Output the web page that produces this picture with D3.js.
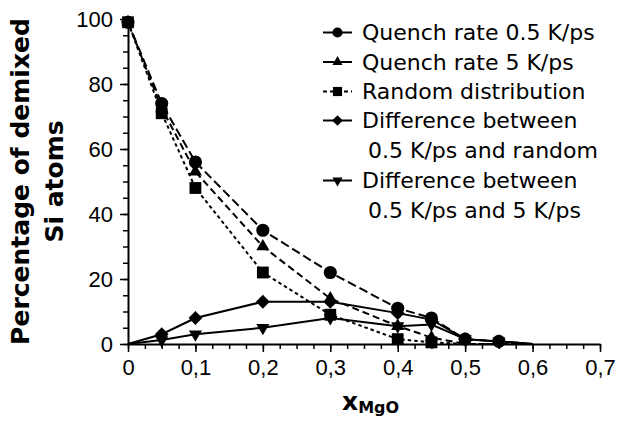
<!DOCTYPE html>
<html>
<head>
<meta charset="utf-8">
<script src="https://cdn.jsdelivr.net/npm/d3@7"></script>
<style>
  body { margin: 0; background: #fff; }
  svg { display: block; font-family: "DejaVu Sans", Verdana, sans-serif; }
  .axis path, .axis line { stroke: #000; }
  .axis text { font-size: 22px; fill: #000; }
</style>
</head>
<body>
<script>
const width = 625,
  height = 423;
const margin = { top: 19, right: 25, bottom: 79, left: 128 };
const innerWidth = width - margin.left - margin.right;
const innerHeight = height - margin.top - margin.bottom;

// x positions (mole fraction MgO)
const xValues = [0, 0.05, 0.1, 0.2, 0.3, 0.4, 0.45, 0.5, 0.55, 0.6];
// percentages
const quench05 = [99, 74, 56, 35, 22, 11, 8, 1.5, 0.8, 0];
const quench5 = [99, 72.5, 53, 30, 14, 5.5, 2, 0, 0, 0];
const randomDist = [99, 71, 48, 22, 9, 1.5, 0.5, 0, 0, 0];
const diffRandom = [0, 3, 8, 13, 13, 9.5, 7.5, 1.5, 0.8, 0];
const diffQuench = [0, 1.2, 3, 5, 8, 5.5, 6, 1.5, 0.8, 0];

const xTicks = [0, 0.1, 0.2, 0.3, 0.4, 0.5, 0.6, 0.7];
const yTicks = [0, 20, 40, 60, 80, 100];

const seriesNames = [
  ["Quench rate 0.5 K/ps"],
  ["Quench rate 5 K/ps"],
  ["Random distribution"],
  ["Difference between", "0.5 K/ps and random"],
  ["Difference between", "0.5 K/ps and 5 K/ps"]
];

const series = [
  { values: quench05, symbol: d3.symbolCircle, size: 135, rot: 0, dash: "9,4", legendDash: null },
  { values: quench5, symbol: d3.symbolTriangle, size: 75, rot: 0, dash: "7,4", legendDash: null },
  { values: randomDist, symbol: d3.symbolSquare, size: 140, rot: 0, dash: "3.5,3", legendDash: "4,3" },
  { values: diffRandom, symbol: d3.symbolSquare, size: 95, rot: 45, dash: null, legendDash: null },
  { values: diffQuench, symbol: d3.symbolTriangle, size: 75, rot: 180, dash: null, legendDash: null }
];

const xScale = d3.scaleLinear().domain([0, 0.7]).range([0, innerWidth]);
const yScale = d3.scaleLinear().domain([0, 100]).range([innerHeight, 0]);

const comma = d => (d === 0 ? "0" : d3.format(".1f")(d).replace(".", ","));

const svg = d3
  .select("body")
  .append("svg")
  .attr("width", width)
  .attr("height", height);

const mainG = svg
  .append("g")
  .attr("transform", `translate(${margin.left},${margin.top})`);

// minor ticks (no labels)
mainG
  .append("g")
  .attr("class", "axis")
  .attr("transform", `translate(0,${innerHeight})`)
  .call(
    d3.axisBottom(xScale)
      .tickValues(d3.range(0, 29).map(i => i * 0.025))
      .tickSize(5)
  )
  .call(g => g.select(".domain").remove())
  .call(g => g.selectAll("text").remove())
  .selectAll("line").attr("stroke-width", 1.5);

mainG
  .append("g")
  .attr("class", "axis")
  .call(
    d3.axisLeft(yScale)
      .tickValues(d3.range(0, 21).map(i => i * 5))
      .tickSize(5)
  )
  .call(g => g.select(".domain").remove())
  .call(g => g.selectAll("text").remove())
  .selectAll("line").attr("stroke-width", 1.5);

// major axes
const xAxisG = mainG
  .append("g")
  .attr("class", "axis")
  .attr("transform", `translate(0,${innerHeight})`)
  .call(
    d3.axisBottom(xScale)
      .tickValues(xTicks)
      .tickFormat(comma)
      .tickSize(8)
      .tickSizeOuter(0)
      .tickPadding(7)
  );
xAxisG.select(".domain").attr("stroke-width", 2);
xAxisG.selectAll("line").attr("stroke-width", 1.5);

const yAxisG = mainG
  .append("g")
  .attr("class", "axis")
  .call(
    d3.axisLeft(yScale)
      .tickValues(yTicks)
      .tickSize(8)
      .tickSizeOuter(0)
      .tickPadding(7)
  );
yAxisG.select(".domain").attr("stroke-width", 2);
yAxisG.selectAll("line").attr("stroke-width", 1.5);

// lines
const line = d3
  .line()
  .x((d, i) => xScale(xValues[i]))
  .y(d => yScale(d));

series.forEach(s => {
  mainG
    .append("path")
    .datum(s.values)
    .attr("fill", "none")
    .attr("stroke", "#000")
    .attr("stroke-width", 2)
    .attr("stroke-dasharray", s.dash)
    .attr("d", line);
});

// markers (points sitting on zero are hidden by the axis)
series.forEach(s => {
  mainG
    .selectAll(null)
    .data(s.values.map((v, i) => [xValues[i], v]).filter(d => d[1] > 0.3))
    .enter()
    .append("path")
    .attr("d", d3.symbol().type(s.symbol).size(s.size))
    .attr("fill", "#000")
    .attr(
      "transform",
      d => `translate(${xScale(d[0])},${yScale(d[1])}) rotate(${s.rot})`
    );
});

// legend
const legendRows = [32.5, 62, 91.5, 120.5, 180.5];
const legend = svg.append("g");
series.forEach((s, i) => {
  const y = legendRows[i];
  legend
    .append("line")
    .attr("x1", 323)
    .attr("x2", 352)
    .attr("y1", y)
    .attr("y2", y)
    .attr("stroke", "#000")
    .attr("stroke-width", 2)
    .attr("stroke-dasharray", s.legendDash);
  legend
    .append("path")
    .attr("d", d3.symbol().type(s.symbol).size(s.size * 0.6))
    .attr("fill", "#000")
    .attr("transform", `translate(337.5,${y}) rotate(${s.rot})`);
  seriesNames[i].forEach((t, j) => {
    legend
      .append("text")
      .attr("x", j === 0 ? 362 : 368)
      .attr("y", y + j * 30)
      .attr("dy", "0.36em")
      .attr("font-size", 22)
      .text(t);
  });
});

// y axis title
const yTitle = svg
  .append("text")
  .attr("transform", `translate(29,${margin.top + innerHeight / 2}) rotate(-90)`)
  .attr("text-anchor", "middle")
  .attr("font-weight", "bold")
  .attr("font-size", 25);
yTitle.append("tspan").attr("x", 0).attr("y", 0).text("Percentage of demixed");
yTitle.append("tspan").attr("x", 0).attr("y", 34).text("Si atoms");

// x axis title
const xTitle = svg
  .append("text")
  .attr("x", 342)
  .attr("y", 410)
  .attr("font-weight", "bold")
  .attr("font-size", 25);
xTitle.append("tspan").text("x");
xTitle.append("tspan").attr("font-size", 16).attr("dy", 3).text("MgO");
</script>
</body>
</html>
